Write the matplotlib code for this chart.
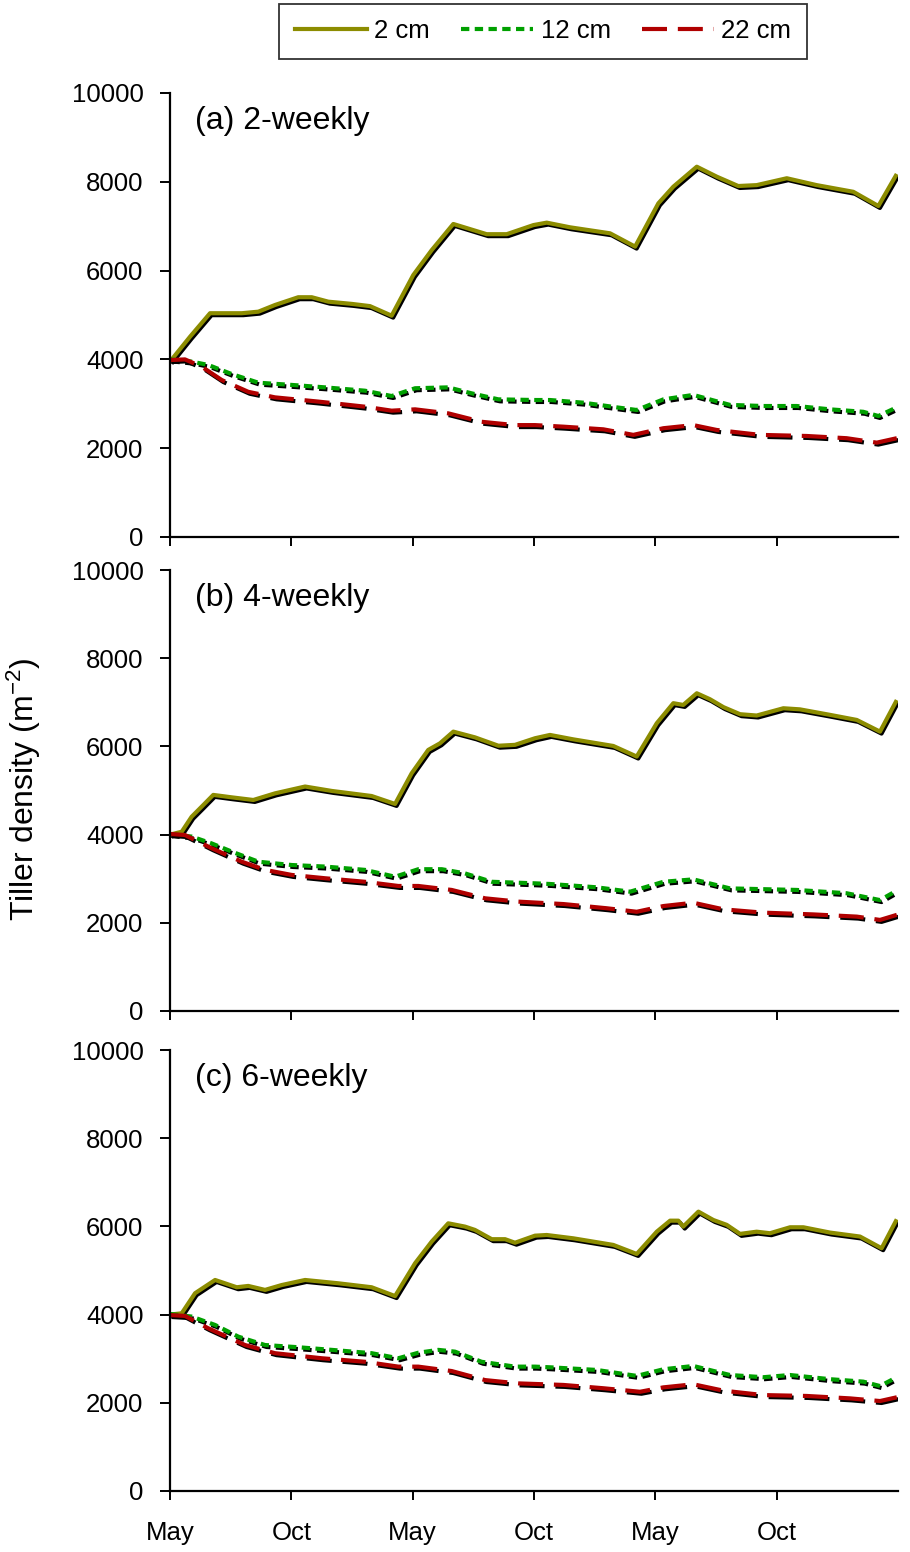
import matplotlib
matplotlib.use("Agg")
import matplotlib.pyplot as plt
import matplotlib.patheffects as pe
from matplotlib.lines import Line2D

plt.rcParams['font.family'] = ['Liberation Sans', 'DejaVu Sans']
plt.rcParams['mathtext.default'] = 'regular'

# x in months since the first May
a_2_x = [0, 0.99, 1.98, 3.55, 4.37, 5.19, 6.34, 7.01, 7.83, 8.99, 9.89, 10.96, 12.03, 12.94, 14.01, 15.66,
         16.65, 17.97, 18.63, 19.78, 21.76, 23.00, 24.15, 24.89, 26.05, 27.04, 28.10, 29.01, 30.50, 31.98,
         33.79, 35.03, 35.94]
a_2_y = [3950, 4510, 5040, 5040, 5075, 5225, 5400, 5400, 5300, 5250, 5200, 4985, 5900, 6460, 7050, 6820,
         6820, 7025, 7080, 6975, 6840, 6540, 7515, 7890, 8340, 8115, 7905, 7925, 8080, 7925,
         7775, 7455, 8175]
a_12_x = [0, 1.07, 1.89, 3.05, 4.37, 6.02, 7.67, 9.64, 10.96, 12.12, 13.76, 14.92, 16.24, 18.05, 18.79,
          20.44, 22.09, 23.08, 24.40, 25.88, 27.69, 29.34, 30.99, 32.64, 34.28, 35.03, 35.94]
a_12_y = [4000, 3950, 3875, 3670, 3475, 3425, 3370, 3295, 3175, 3350, 3370, 3235, 3100, 3085, 3085,
          3025, 2920, 2860, 3100, 3200, 2975, 2950, 2950, 2875, 2820, 2725, 2920]
a_22_x = [0, 0.74, 1.57, 2.56, 3.87, 5.19, 7.33, 9.64, 10.96, 12.12, 13.76, 15.41, 17.06, 18.05, 19.45,
          21.43, 22.91, 24.40, 25.88, 27.04, 29.18, 31.49, 33.46, 34.95, 35.94]
a_22_y = [3985, 4000, 3835, 3535, 3270, 3145, 3050, 2935, 2845, 2875, 2785, 2595, 2520, 2520, 2485,
          2425, 2300, 2450, 2520, 2410, 2300, 2275, 2225, 2125, 2225]

b_2_x = [0, 0.58, 1.07, 1.57, 2.14, 3.05, 4.12, 5.19, 6.68, 8.00, 9.97, 11.13, 11.95, 12.77, 13.35, 14.01,
         15.08, 16.24, 17.06, 18.05, 18.79, 19.94, 21.92, 23.08, 24.07, 24.89, 25.38, 26.05, 26.70, 27.37,
         28.19, 29.01, 30.33, 31.15, 32.64, 33.96, 35.11, 35.94]
b_2_y = [4000, 4065, 4405, 4635, 4900, 4845, 4785, 4935, 5090, 4990, 4875, 4695, 5390, 5920, 6070, 6335,
         6205, 6015, 6035, 6185, 6260, 6160, 6010, 5770, 6525, 6980, 6940, 7205, 7070, 6890,
         6730, 6700, 6865, 6840, 6715, 6600, 6335, 7050]
b_12_x = [0, 1.07, 2.06, 3.05, 4.37, 6.02, 7.67, 9.64, 11.13, 12.28, 13.44, 14.59, 15.91, 18.05, 18.79,
          21.10, 22.75, 24.40, 25.88, 27.69, 30.99, 33.46, 35.11, 35.94]
b_12_y = [4015, 3955, 3800, 3615, 3385, 3310, 3275, 3200, 3045, 3215, 3215, 3120, 2930, 2895, 2880,
          2805, 2705, 2930, 2985, 2780, 2745, 2670, 2515, 2730]
b_22_x = [0, 0.74, 2.06, 3.55, 4.70, 6.02, 7.67, 9.64, 11.29, 12.28, 13.93, 15.58, 17.22, 19.45, 21.59,
          23.08, 24.40, 25.88, 27.37, 29.34, 31.82, 33.96, 35.11, 35.94]
b_22_y = [4015, 3990, 3690, 3385, 3200, 3085, 3010, 2930, 2835, 2835, 2745, 2555, 2480, 2425, 2330,
          2250, 2380, 2455, 2305, 2230, 2190, 2140, 2065, 2180]

c_2_x = [0, 0.58, 1.24, 2.23, 3.30, 3.87, 4.70, 5.52, 6.68, 8.32, 9.97, 11.13, 12.12, 12.94, 13.76, 14.59,
         15.08, 15.91, 16.57, 17.06, 18.05, 18.63, 19.94, 21.92, 23.08, 24.07, 24.73, 25.14, 25.38, 26.13,
         26.87, 27.53, 28.19, 29.01, 29.67, 30.66, 31.32, 32.64, 34.12, 35.19, 35.94]
c_2_y = [4000, 4030, 4485, 4785, 4620, 4650, 4560, 4670, 4785, 4710, 4620, 4420, 5165, 5655, 6070, 5995,
         5920, 5710, 5710, 5630, 5790, 5805, 5730, 5580, 5375, 5880, 6130, 6130, 5995, 6335,
         6145, 6035, 5830, 5880, 5845, 5980, 5980, 5860, 5770, 5505, 6160]
c_12_x = [0, 1.07, 2.23, 3.38, 4.70, 6.34, 8.00, 9.97, 11.29, 12.28, 13.27, 14.09, 15.41, 17.06, 18.05,
          18.79, 21.10, 23.08, 24.40, 25.88, 27.69, 29.34, 30.66, 32.64, 34.28, 35.11, 35.94]
c_12_y = [4015, 3955, 3765, 3500, 3310, 3260, 3200, 3125, 3010, 3135, 3200, 3160, 2930, 2820, 2820,
          2805, 2745, 2610, 2760, 2835, 2630, 2580, 2630, 2535, 2480, 2380, 2580]
c_22_x = [0, 0.74, 1.89, 3.71, 5.19, 7.50, 9.64, 11.29, 12.28, 13.93, 15.58, 17.22, 19.45, 21.43, 23.24,
          24.40, 25.88, 27.37, 29.34, 31.49, 33.63, 35.11, 35.94]
c_22_y = [3990, 3970, 3690, 3310, 3125, 3010, 2930, 2820, 2820, 2720, 2515, 2440, 2405, 2330, 2250,
          2350, 2420, 2275, 2175, 2155, 2100, 2040, 2125]

panel_titles = ['(a) 2-weekly', '(b) 4-weekly', '(c) 6-weekly']
series_labels = ['2 cm', '12 cm', '22 cm']
tick_pos = [0, 6, 12, 18, 24, 30]
tick_labels = ['May', 'Oct', 'May', 'Oct', 'May', 'Oct']

panels = [
    [(a_2_x, a_2_y), (a_12_x, a_12_y), (a_22_x, a_22_y)],
    [(b_2_x, b_2_y), (b_12_x, b_12_y), (b_22_x, b_22_y)],
    [(c_2_x, c_2_y), (c_12_x, c_12_y), (c_22_x, c_22_y)],
]

colors = ['#8c8c00', '#00a000', '#b00000']
lw = 3.0
styles = ['-', (0, (2.0, 1.3)), (0, (6.0, 2.6))]
shadow = [pe.SimpleLineShadow(offset=(1.1, -1.4), shadow_color='black', alpha=1.0), pe.Normal()]

fig = plt.figure(figsize=(9.1, 15.52), dpi=100)
W, H = 910, 1552
left, right = 170, 898
tops = [93, 570, 1050]
bottoms = [537, 1011, 1491]

for i, series in enumerate(panels):
    ax = fig.add_axes([left / W, 1 - bottoms[i] / H, (right - left) / W, (bottoms[i] - tops[i]) / H])
    for (x, y), c, ls in zip(series, colors, styles):
        ax.plot(x, y, color=c, linestyle=ls, linewidth=lw, path_effects=shadow,
                solid_capstyle='butt', dash_capstyle='butt', solid_joinstyle='round')
    ax.set_xlim(0, 36)
    ax.set_ylim(0, 10000)
    ax.set_yticks(range(0, 10001, 2000))
    ax.set_xticks(tick_pos)
    if i == 2:
        ax.set_xticklabels(tick_labels)
    else:
        ax.set_xticklabels([])
    for s in ['top', 'right']:
        ax.spines[s].set_visible(False)
    for s in ['left', 'bottom']:
        ax.spines[s].set_linewidth(1.6)
    ax.tick_params(axis='y', direction='out', length=7, width=1.4, pad=12, labelsize=18.5)
    ax.tick_params(axis='x', direction='out', length=6.5, width=1.4, pad=15, labelsize=18.5)
    ax.text(0.034, 0.936, panel_titles[i], transform=ax.transAxes, fontsize=23, va='center', ha='left')

fig.text(24 / W, 1 - 789 / H, 'Tiller density (m$^{-2}$)', rotation=90, fontsize=23,
         va='center', ha='center')

handles = [Line2D([], [], color=c, linestyle=ls, linewidth=lw) for c, ls in zip(colors, styles)]
leg = fig.legend(handles, series_labels, loc='upper center', bbox_to_anchor=(543 / W, 1 - 4 / H),
                 ncol=3, fontsize=18.5, frameon=True, fancybox=False, handlelength=2.8,
                 columnspacing=1.2, handletextpad=0.3, borderpad=0.6, borderaxespad=0)
leg.get_frame().set_edgecolor('black')
leg.get_frame().set_linewidth(1.3)

fig.savefig('out.png', dpi=100)
